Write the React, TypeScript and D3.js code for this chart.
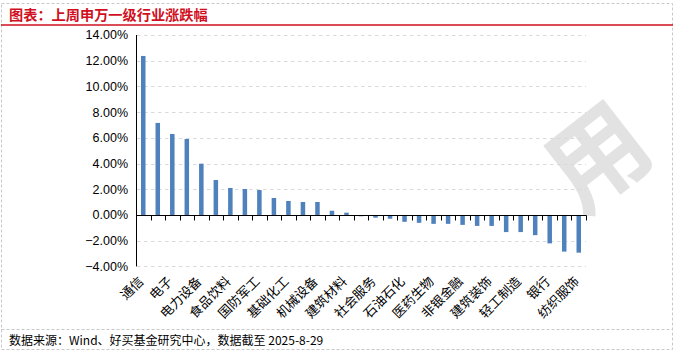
import React, { useEffect } from "react";
import * as d3 from "d3";

// 申万一级行业，按上周涨跌幅排序（仅隔一个显示标签）
const categories = [
  "通信", "有色金属", "电子", "计算机", "电力设备", "钢铁", "食品饮料", "汽车",
  "国防军工", "传媒", "基础化工", "家用电器", "机械设备", "煤炭", "建筑材料", "环保",
  "社会服务", "综合", "石油石化", "商贸零售", "医药生物", "公用事业", "非银金融", "交通运输",
  "建筑装饰", "农林牧渔", "轻工制造", "房地产", "银行", "美容护理", "纺织服饰",
];
const values = [
  12.37, 7.16, 6.3, 5.91, 3.99, 2.72, 2.1, 2.02,
  1.94, 1.32, 1.09, 1.01, 1.01, 0.33, 0.18, -0.1,
  -0.21, -0.29, -0.53, -0.61, -0.69, -0.69, -0.77, -0.85,
  -0.85, -1.33, -1.33, -1.57, -2.21, -2.85, -2.93,
];
const yTicks = [14, 12, 10, 8, 6, 4, 2, 0, -2, -4];

const TITLE = "图表：上周申万一级行业涨跌幅";
const SOURCE = "数据来源：Wind、好买基金研究中心，数据截至 2025-8-29";

const W = 676;
const H = 353;
const plot = { left: 136, right: 586, top: 35, bottom: 266.4 };
const BAR = "#4f81bd";
const RED = "#d0101e";
const FONT = "'Liberation Sans', 'Noto Sans CJK SC', sans-serif";
const CJK = "'Noto Sans CJK SC', sans-serif";

export default function App() {
  useEffect(() => {
    document.body.style.margin = "0";
  }, []);

  const x = d3.scaleBand<string>()
    .domain(categories)
    .range([plot.left, plot.right])
    .paddingInner(0.69)
    .paddingOuter(0.345);
  const y = d3.scaleLinear().domain([-4, 14]).range([plot.bottom, plot.top]);
  const step = x.step();
  const y0 = y(0);

  return (
    <svg width={W} height={H} style={{ display: "block", background: "#fff" }}>
      {/* watermark */}
      <text x={598} y={193} fontSize={100} fontWeight="bold" textAnchor="middle" fill="#e2e2e2" fontFamily={CJK}
        transform="rotate(-38 598 158)">用</text>

      {/* frame */}
      <rect x={1.5} y={3.5} width={671} height={346} fill="none" stroke="#c8c8c8" strokeDasharray="3 2" />
      <line x1={1.5} x2={672.5} y1={329.5} y2={329.5} stroke="#c8c8c8" strokeDasharray="3 2" />
      <line x1={1} x2={673} y1={25} y2={25} stroke={RED} strokeWidth={1.6} />
      <text x={9} y={19.5} fill={RED} fontFamily={CJK} fontWeight="bold" fontSize={14.2}>{TITLE}</text>
      <text x={9} y={345} fill="#000" fontFamily={CJK} fontSize={12}>{SOURCE}</text>

      {/* gridlines */}
      {yTicks.filter(t => t !== 0).map(t => (
        <line key={t} x1={plot.left + 1} x2={plot.right} y1={Math.round(y(t)) + 0.5} y2={Math.round(y(t)) + 0.5}
          stroke="#d9d9d9" strokeDasharray="3.5 3.5" />
      ))}

      {/* y tick labels */}
      {yTicks.map(t => (
        <text key={t} x={128} y={y(t)} dy="0.35em" textAnchor="end" fontFamily={FONT} fontSize={12.5} fill="#000">
          {d3.format(".2f")(t)}%
        </text>
      ))}

      {/* bars */}
      {categories.map((c, i) => {
        const v = values[i];
        return (
          <rect key={c} x={x(c)} width={x.bandwidth()} y={Math.min(y(v), y0)} height={Math.abs(y(v) - y0)} fill={BAR} />
        );
      })}

      {/* axes */}
      <line x1={plot.left + 0.5} x2={plot.left + 0.5} y1={plot.top} y2={plot.bottom} stroke="#000" strokeWidth={1} />
      <line x1={plot.left} x2={plot.right + 0.5} y1={Math.round(y0) + 0.5} y2={Math.round(y0) + 0.5} stroke="#000" strokeWidth={1} />
      {d3.range(categories.length + 1).map(i => (
        <line key={i} x1={Math.round(plot.left + i * step) + 0.5} x2={Math.round(plot.left + i * step) + 0.5}
          y1={Math.round(y0) + 0.5} y2={Math.round(y0) + 5.5} stroke="#000" strokeWidth={1} />
      ))}

      {/* category labels (every other) */}
      {categories.map((c, i) => {
        if (i % 2 !== 0) return null;
        const ax = (x(c) ?? 0) + x.bandwidth() / 2 - 2;
        const ay = 279;
        return (
          <text key={c} x={ax} y={ay} textAnchor="end" fontFamily={CJK} fontSize={13} fill="#000"
            transform={`rotate(-45 ${ax} ${ay})`} dy="0.35em">
            {c}
          </text>
        );
      })}
    </svg>
  );
}
